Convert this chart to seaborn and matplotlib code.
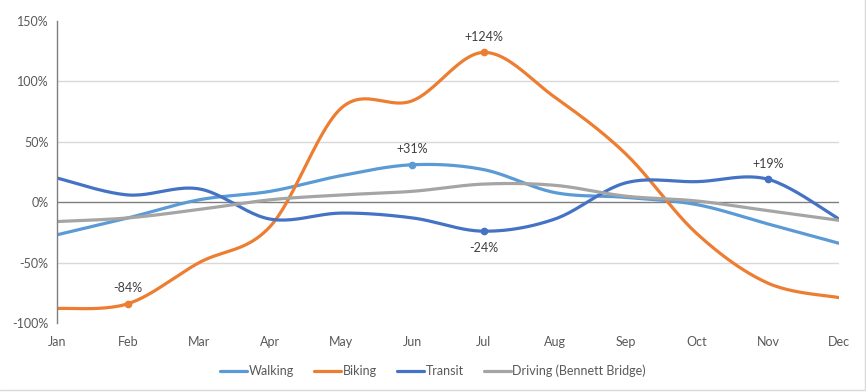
import numpy as np
import pandas as pd
import matplotlib
matplotlib.use("Agg")
import matplotlib.pyplot as plt
import seaborn as sns
from matplotlib.lines import Line2D

# Monthly change vs. baseline (%)
months = ["Jan", "Feb", "Mar", "Apr", "May", "Jun", "Jul", "Aug", "Sep", "Oct", "Nov", "Dec"]
walking = [-27, -13, 2, 9, 22, 31, 27, 8, 4, -2, -18, -34]
biking = [-88, -84, -50, -20, 78, 84, 124, 87, 40, -26, -67, -79]
transit = [20, 6, 11, -14, -9, -13, -24, -14, 16, 17, 19, -14]
driving = [-16, -13, -6, 2, 6, 9, 15, 14, 5, 1, -7, -15]

series_names = ["Walking", "Biking", "Transit", "Driving (Bennett Bridge)"]
series_values = [walking, biking, transit, driving]
colors = ["#5B9BD5", "#ED7D31", "#4472C4", "#A5A5A5"]

# labelled points: (series, month, text)
callouts = [("Biking", "Feb", "-84%"), ("Biking", "Jul", "+124%"),
            ("Walking", "Jun", "+31%"), ("Transit", "Jul", "-24%"),
            ("Transit", "Nov", "+19%")]


def smooth(y, steps=24):
    # Excel-style smoothed line: cubic bezier between points
    x = np.arange(len(y), dtype=float)
    y = np.asarray(y, dtype=float)
    px = np.concatenate([[x[0]], x, [x[-1]]])
    py = np.concatenate([[y[0]], y, [y[-1]]])
    xs, ys = [], []
    t = np.linspace(0, 1, steps, endpoint=False)
    for i in range(len(y) - 1):
        p0 = np.array([px[i + 1], py[i + 1]])
        p3 = np.array([px[i + 2], py[i + 2]])
        p1 = p0 + (p3 - np.array([px[i], py[i]])) / 6
        p2 = p3 - (np.array([px[i + 3], py[i + 3]]) - p0) / 6
        b = ((1 - t) ** 3)[:, None] * p0 + (3 * (1 - t) ** 2 * t)[:, None] * p1 \
            + (3 * (1 - t) * t ** 2)[:, None] * p2 + (t ** 3)[:, None] * p3
        xs.extend(b[:, 0]); ys.extend(b[:, 1])
    xs.append(x[-1]); ys.append(y[-1])
    return np.array(xs), np.array(ys)


frames = []
for name, vals in zip(series_names, series_values):
    sx, sy = smooth(vals)
    frames.append(pd.DataFrame({"x": sx, "value": sy, "series": name}))
df = pd.concat(frames, ignore_index=True)

sns.set_theme(style="white")
plt.rcParams["font.family"] = ["Lato", "DejaVu Sans"]

fig = plt.figure(figsize=(8.66, 3.92), dpi=100)
ax = fig.add_axes([57 / 866, 69 / 392, 782 / 866, 302 / 392])

sns.lineplot(data=df, x="x", y="value", hue="series", hue_order=series_names,
             palette=colors, sort=False, estimator=None, linewidth=2.3, ax=ax,
             legend=False)

for name, mon, txt in callouts:
    i = months.index(mon)
    k = series_names.index(name)
    v = series_values[k][i]
    ax.plot(i, v, "o", color=colors[k], markersize=4.5)
    dy = -12 if txt == "-24%" else 11
    ax.annotate(txt, (i, v), xytext=(0, dy), textcoords="offset points",
                ha="center", va="center", fontsize=9, color="#404040")

ax.set_xlim(0, len(months) - 1)
ax.set_ylim(-100, 150)
ax.set_yticks([-100, -50, 0, 50, 100, 150])
ax.set_yticklabels([f"{t}%" for t in [-100, -50, 0, 50, 100, 150]])
ax.set_xticks(range(len(months)))
ax.set_xticklabels(months)
for g in [-50, 50, 100]:
    ax.axhline(g, color="#D9D9D9", linewidth=1, zorder=0)
ax.axhline(0, color="#7F7F7F", linewidth=1, zorder=0.5)
ax.tick_params(axis="both", length=0, labelsize=9, colors="#595959", pad=9)
ax.tick_params(axis="y", pad=6)
ax.set_xlabel("")
ax.set_ylabel("")
for s in ["top", "right", "bottom"]:
    ax.spines[s].set_visible(False)
ax.spines["left"].set_color("#7F7F7F")
ax.spines["left"].set_linewidth(1)

handles = [Line2D([], [], color=c, linewidth=2.3) for c in colors]
fig.legend(handles, series_names, loc="center", bbox_to_anchor=(0.5, 21 / 392),
           ncol=4, frameon=False, fontsize=9, handlelength=2.2, handletextpad=0.1,
           columnspacing=1.6, labelcolor="#595959")

# chart-area border, visible only on the right and bottom edges
bx = 864.5 / 866
by = 2.5 / 392
fig.add_artist(Line2D([bx, bx], [by, 1], transform=fig.transFigure, color="#D9D9D9", linewidth=1))
fig.add_artist(Line2D([0, bx], [by, by], transform=fig.transFigure, color="#D9D9D9", linewidth=1))

fig.savefig("out.png", dpi=100, facecolor="white")
